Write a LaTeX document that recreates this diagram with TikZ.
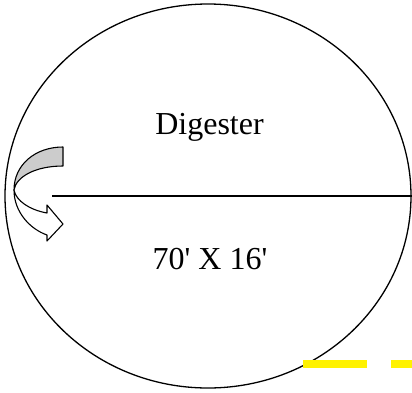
\documentclass[tikz,border=0pt]{standalone}
\usepackage{fontspec}
\setmainfont{Liberation Serif}
\usetikzlibrary{shapes.geometric,positioning}

\begin{document}
\begin{tikzpicture}[
    x=1pt, y=-1pt,
    tank/.style={draw, ellipse, line width=1.3pt, minimum width=406pt, minimum height=384pt, inner sep=0pt},
    label/.style={font=\fontsize{32}{38}\selectfont, anchor=base, inner sep=0pt},
    turn/.style={draw, line width=1.1pt, line join=round},
    marker/.style={draw=yellow, line width=8pt, dash pattern=on 64pt off 24pt}
]
\useasboundingbox (0,0) rectangle (412,392);

\node[tank] (digester) at (208,196) {};
\node[label] (name) at (209.5,134) {Digester};
\node[label] (size) at (210,269) {70\textquotesingle{} X 16\textquotesingle};

% diameter line
\coordinate (start) at (52,196);
\draw[line width=1.3pt] (start) -- (digester.east);

% curved arrow at the inlet
\draw[turn, fill=black!20] (63,147) .. controls (35,147) and (14,165) .. (14,190)
    .. controls (16,177) and (35,166) .. (63,166) -- cycle;
\draw[turn, fill=white] (14,190) .. controls (14,212) and (30,229) .. (47,235)
    -- (47,241) -- (63,224) -- (47,205) -- (47,213)
    .. controls (30,210) and (16,201) .. (14,190) -- cycle;

% yellow marker
\coordinate (m1) at (303,364);
\coordinate (m2) at (420,364);
\draw[marker] (m1) -- (m2);
\end{tikzpicture}
\end{document}
